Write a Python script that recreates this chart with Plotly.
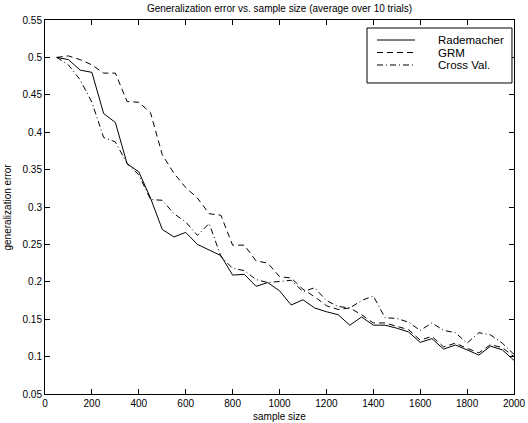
import plotly.graph_objects as go

# Sample sizes (every 50 samples) and averaged generalization error per method
sample_size = list(range(50, 2001, 50))

rademacher = [0.500, 0.497, 0.483, 0.480, 0.425, 0.413, 0.358, 0.347, 0.312, 0.270,
              0.260, 0.266, 0.250, 0.242, 0.235, 0.209, 0.210, 0.194, 0.199, 0.188,
              0.169, 0.176, 0.165, 0.160, 0.156, 0.142, 0.153, 0.142, 0.142, 0.138,
              0.133, 0.119, 0.124, 0.110, 0.1155, 0.109, 0.102, 0.114, 0.109, 0.095]

grm = [0.500, 0.502, 0.497, 0.490, 0.479, 0.479, 0.441, 0.440, 0.426, 0.370,
       0.345, 0.326, 0.312, 0.291, 0.289, 0.249, 0.249, 0.228, 0.225, 0.207,
       0.205, 0.190, 0.180, 0.168, 0.163, 0.165, 0.156, 0.145, 0.145, 0.140,
       0.136, 0.122, 0.127, 0.113, 0.118, 0.111, 0.105, 0.116, 0.112, 0.100]

cross_val = [0.500, 0.490, 0.470, 0.440, 0.393, 0.387, 0.358, 0.343, 0.310, 0.309,
             0.291, 0.280, 0.262, 0.278, 0.234, 0.218, 0.215, 0.203, 0.199, 0.200,
             0.202, 0.187, 0.192, 0.175, 0.167, 0.165, 0.175, 0.181, 0.152, 0.151,
             0.146, 0.135, 0.145, 0.135, 0.132, 0.118, 0.132, 0.129, 0.118, 0.103]

series_names = ["Rademacher", "GRM", "Cross Val."]
series_dash = ["solid", "6px,4px", "6px,3px,1px,3px"]

x_ticks = [0, 200, 400, 600, 800, 1000, 1200, 1400, 1600, 1800, 2000]
y_ticks = [0.05, 0.1, 0.15, 0.2, 0.25, 0.3, 0.35, 0.4, 0.45, 0.5, 0.55]
y_tick_text = ["0.05", "0.1", "0.15", "0.2", "0.25", "0.3", "0.35", "0.4", "0.45", "0.5", "0.55"]

FONT = "Liberation Sans, Arial, Helvetica, sans-serif"

fig = go.Figure()
for name, ys, dash in zip(series_names, [rademacher, grm, cross_val], series_dash):
    fig.add_trace(go.Scatter(
        x=sample_size, y=ys, mode="lines", name=name,
        line=dict(color="black", width=1, dash=dash),
        showlegend=False,
    ))

axis_common = dict(
    showline=True, linecolor="black", linewidth=1, mirror="ticks",
    ticks="inside", ticklen=5, tickcolor="black", tickwidth=1,
    showgrid=False, zeroline=False, automargin=False,
    tickfont=dict(family=FONT, size=10, color="black"),
)

fig.update_xaxes(range=[0, 2000], tickvals=x_ticks, **axis_common)
fig.update_yaxes(range=[0.05, 0.55], tickvals=y_ticks, ticktext=y_tick_text, **axis_common)

# Axis titles placed as annotations so the plot area keeps fixed margins
annotations = [
    dict(xref="paper", yref="paper", x=0.5, y=0, yanchor="top", yshift=-15,
         showarrow=False, text="sample size",
         font=dict(family=FONT, size=10, color="black")),
    dict(xref="paper", yref="paper", x=0, y=0.5, xanchor="right", xshift=-31,
         textangle=-90, showarrow=False, text="generalization error",
         font=dict(family=FONT, size=10, color="black")),
]

# Boxed legend drawn in the upper-right corner of the axes
shapes = [dict(type="rect", xref="paper", yref="paper",
               x0=0.6866, x1=0.9957, y0=0.8316, y1=0.9786,
               line=dict(color="black", width=1), fillcolor="white", layer="above")]
row_y = [0.9465, 0.9131, 0.8797]
for name, dash, yy in zip(series_names, series_dash, row_y):
    shapes.append(dict(type="line", xref="paper", yref="paper",
                       x0=0.7079, x1=0.789, y0=yy, y1=yy,
                       line=dict(color="black", width=1, dash=dash), layer="above"))
    annotations.append(dict(xref="paper", yref="paper", x=0.8422, y=yy, xshift=-3,
                            xanchor="left", yanchor="middle", showarrow=False,
                            borderpad=0,
                            text=name, font=dict(family=FONT, size=11.5, color="black")))

fig.update_layout(
    width=528, height=423,
    margin=dict(l=45, r=14, t=20, b=29),
    paper_bgcolor="white", plot_bgcolor="white",
    title=dict(text="Generalization error vs. sample size (average over 10 trials)",
               x=0.5293, xanchor="center", y=0.979, yanchor="middle",
               font=dict(family=FONT, size=10, color="black")),
    shapes=shapes, annotations=annotations,
)

fig.write_html("out.html")
